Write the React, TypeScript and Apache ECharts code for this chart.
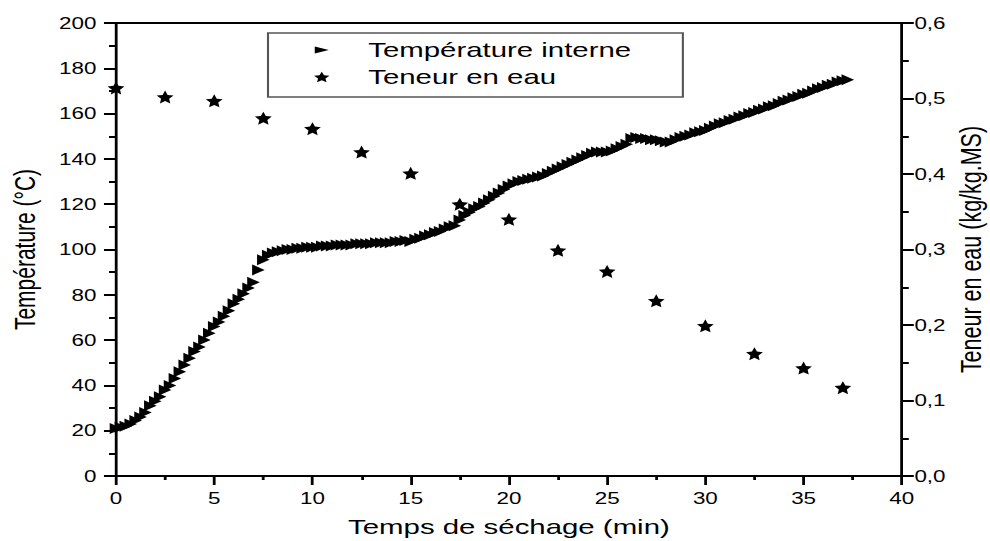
import { useEffect, useRef } from "react";
import * as echarts from "echarts";

// Drying run: internal product temperature (left axis) and moisture content (right axis)
const tempMinutes: number[] = [
  0, 0.25, 0.5, 0.75, 1, 1.25, 1.5, 1.75, 2, 2.25, 2.5, 2.75, 3, 3.25, 3.5, 3.75,
  4, 4.25, 4.5, 4.75, 5, 5.25, 5.5, 5.75, 6, 6.25, 6.5, 6.75, 7, 7.25, 7.5, 7.75,
  8, 8.25, 8.5, 8.75, 9, 9.25, 9.5, 9.75, 10, 10.25, 10.5, 10.75, 11, 11.25, 11.5, 11.75,
  12, 12.25, 12.5, 12.75, 13, 13.25, 13.5, 13.75, 14, 14.25, 14.5, 14.75, 15, 15.25, 15.5, 15.75,
  16, 16.25, 16.5, 16.75, 17, 17.25, 17.5, 17.75, 18, 18.25, 18.5, 18.75, 19, 19.25, 19.5, 19.75,
  20, 20.25, 20.5, 20.75, 21, 21.25, 21.5, 21.75, 22, 22.25, 22.5, 22.75, 23, 23.25, 23.5, 23.75,
  24, 24.25, 24.5, 24.75, 25, 25.25, 25.5, 25.75, 26, 26.25, 26.5, 26.75, 27, 27.25, 27.5, 27.75,
  28, 28.25, 28.5, 28.75, 29, 29.25, 29.5, 29.75, 30, 30.25, 30.5, 30.75, 31, 31.25, 31.5, 31.75,
  32, 32.25, 32.5, 32.75, 33, 33.25, 33.5, 33.75, 34, 34.25, 34.5, 34.75, 35, 35.25, 35.5, 35.75,
  36, 36.25, 36.5, 36.75, 37, 37.25,
];

const tempValues: number[] = [
  21, 21.5, 22, 23, 24.5, 26, 28, 31, 33, 35, 38, 40, 43, 46, 49, 52,
  55, 57, 60, 63, 66, 68, 70.5, 73, 76, 78, 80.5, 83, 85.5, 91, 95.5, 97.5,
  98.5, 99, 99.5, 100, 100, 100.5, 100.5, 101, 101, 101, 101.5, 101.5, 101.5, 102, 102, 102,
  102, 102.5, 102.5, 102.5, 102.5, 103, 103, 103, 103, 103.5, 103.5, 104, 103.5, 104.5, 105, 106,
  106.5, 107.5, 108, 109, 110, 110.5, 113, 115, 116.5, 118, 119, 120.5, 122, 123.5, 125, 126.5,
  128, 129, 130, 130.5, 131, 131.5, 132, 132.5, 133.5, 134.5, 135.5, 136.5, 137.5, 138.5, 139.5, 140.5,
  141.5, 142.5, 143, 143, 143, 143.5, 144.5, 145.5, 146.5, 149, 149.5, 149, 149, 148.5, 148.5, 148,
  147.5, 147.5, 148.5, 149.5, 150, 150.5, 151.5, 152, 152.5, 153.5, 154.5, 155.5, 156, 157, 157.5, 158.5,
  159, 160, 160.5, 161.5, 162, 163, 163.5, 164.5, 165.5, 166, 167, 167.5, 168.5, 169, 170, 171,
  171.5, 172.5, 173, 174, 174.5, 175,
];

const waterMinutes: number[] = [0, 2.5, 5, 7.5, 10, 12.5, 15, 17.5, 20, 22.5, 25, 27.5, 30, 32.5, 35, 37];
const waterContent: number[] = [
  0.514, 0.502, 0.497, 0.474, 0.46, 0.429, 0.401, 0.36, 0.34, 0.299, 0.271, 0.232, 0.199, 0.162, 0.143, 0.117,
];

const seriesNames = ["Température interne", "Teneur en eau"];

const FONT = "'Liberation Sans', Arial, sans-serif";
const WIDTH = 990;
const HEIGHT = 541;
// the figure is laid out narrow and widened horizontally
const STRETCH = 1.4;

const TRIANGLE = "path://M0,0L10,5L0,10Z";
const TRIANGLE_ICON = "path://M0,0L0,0M0,2L10,5.5L0,9ZM10,11L10,11";
const STAR =
  "path://M50,0L64.1,30.6L97.6,34.5L72.8,57.4L79.4,90.5L50,74L20.6,90.5L27.2,57.4L2.4,34.5L35.9,30.6Z";

const black = "#000";

function buildOption(): echarts.EChartsOption {
  const axisLine = { onZero: false, lineStyle: { color: black, width: 2 } };
  return {
    animation: false,
    backgroundColor: "#fff",
    grid: {
      left: 116 / STRETCH,
      right: 88 / STRETCH,
      top: 23,
      bottom: 65,
      containLabel: false,
      outerBoundsMode: "none",
    } as any,
    legend: {
      show: true,
      orient: "vertical",
      left: 268 / STRETCH,
      top: 33,
      padding: [6.5, 36.8, 9.5, 32.9],
      itemGap: 6,
      itemWidth: 11,
      itemHeight: 11,
      borderColor: "#555",
      borderWidth: 1.5,
      backgroundColor: "#fff",
      selectedMode: false,
      textStyle: { fontSize: 21, color: black, fontFamily: FONT, padding: [0, 0, 0, 22.7] },
      data: [
        { name: seriesNames[0], icon: TRIANGLE_ICON },
        { name: seriesNames[1], icon: STAR },
      ],
    },
    xAxis: [
      {
        type: "value",
        position: "bottom",
        min: 0,
        max: 40,
        interval: 5,
        name: "Temps de séchage (min)",
        nameLocation: "middle",
        nameGap: 40,
        nameMoveOverlap: false,
        nameTextStyle: { fontSize: 21, color: black, fontFamily: FONT },
        axisLine,
        axisTick: { show: true, length: 9, lineStyle: { color: black, width: 2 } },
        minorTick: { show: true, splitNumber: 2, length: 4, lineStyle: { color: black, width: 2 } },
        axisLabel: { fontSize: 16, color: black, margin: 14, fontFamily: FONT },
        splitLine: { show: false },
        minorSplitLine: { show: false },
      } as any,
      {
        type: "value",
        position: "top",
        min: 0,
        max: 40,
        interval: 5,
        axisLine,
        axisTick: { show: false },
        axisLabel: { show: false },
        splitLine: { show: false },
      },
    ],
    yAxis: [
      {
        type: "value",
        position: "left",
        min: 0,
        max: 200,
        interval: 20,
        name: "Température (°C)",
        nameLocation: "middle",
        nameGap: 55,
        nameMoveOverlap: false,
        nameTextStyle: { fontSize: 21, color: black, fontFamily: FONT },
        axisLine,
        axisTick: { show: true, length: 8.6, lineStyle: { color: black, width: 2 } },
        minorTick: { show: true, splitNumber: 2, length: 5, lineStyle: { color: black, width: 2 } },
        axisLabel: { fontSize: 16, color: black, margin: 14, fontFamily: FONT },
        splitLine: { show: false },
        minorSplitLine: { show: false },
      } as any,
      {
        type: "value",
        position: "right",
        min: 0,
        max: 0.6,
        interval: 0.1,
        name: "Teneur en eau (kg/kg.MS)",
        nameLocation: "middle",
        nameGap: 38,
        nameMoveOverlap: false,
        nameTextStyle: { fontSize: 21.5, color: black, fontFamily: FONT },
        axisLine,
        axisTick: { show: true, length: 8.6, lineStyle: { color: black, width: 2 } },
        minorTick: { show: true, splitNumber: 2, length: 5, lineStyle: { color: black, width: 2 } },
        axisLabel: {
          fontSize: 16,
          color: black,
          margin: 9,
          fontFamily: FONT,
          formatter: (v: number) => v.toFixed(1).replace(".", ","),
        },
        splitLine: { show: false },
        minorSplitLine: { show: false },
      } as any,
    ],
    series: [
      {
        type: "scatter",
        name: seriesNames[0],
        xAxisIndex: 0,
        yAxisIndex: 0,
        data: tempMinutes.map((t, i) => [t, tempValues[i]]),
        symbol: TRIANGLE,
        symbolSize: [9, 11],
        itemStyle: { color: black, opacity: 1 },
        silent: true,
      },
      {
        type: "scatter",
        name: seriesNames[1],
        xAxisIndex: 0,
        yAxisIndex: 1,
        data: waterMinutes.map((t, i) => [t, waterContent[i]]),
        symbol: STAR,
        symbolSize: [12, 13],
        itemStyle: { color: black, opacity: 1 },
        silent: true,
        z: 3,
      },
    ],
  };
}

export default function App() {
  const ref = useRef<HTMLDivElement>(null);

  useEffect(() => {
    if (!ref.current) return;
    const chart = echarts.init(ref.current, null, { renderer: "svg" });
    chart.setOption(buildOption());
    return () => chart.dispose();
  }, []);

  return (
    <div
      style={{
        position: "fixed",
        left: 0,
        top: 0,
        width: WIDTH,
        height: HEIGHT,
        overflow: "hidden",
        background: "#fff",
      }}
    >
      <div
        ref={ref}
        style={{
          width: WIDTH / STRETCH,
          height: HEIGHT,
          transform: `scaleX(${STRETCH})`,
          transformOrigin: "0 0",
        }}
      />
    </div>
  );
}
